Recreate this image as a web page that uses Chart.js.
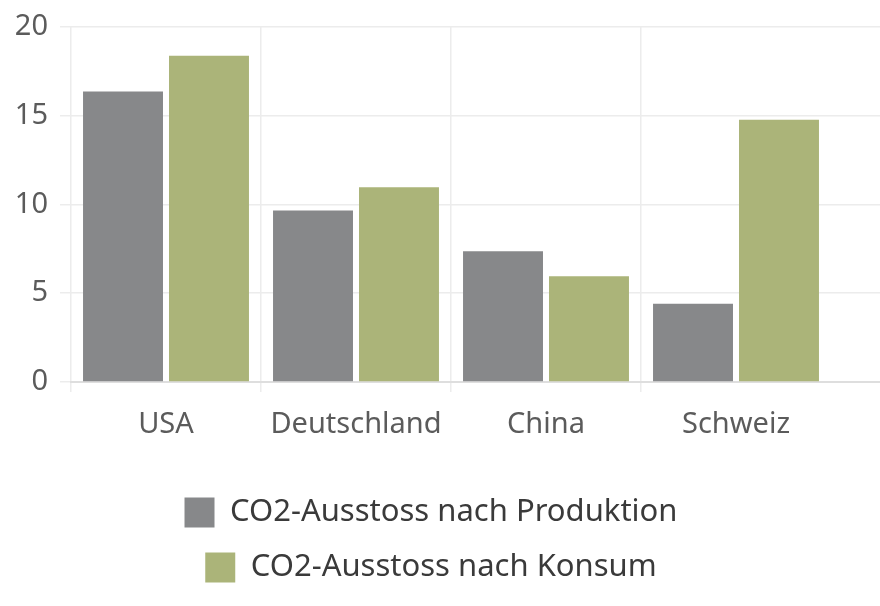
<!DOCTYPE html>
<html>
<head>
<meta charset="utf-8">
<script src="https://cdn.jsdelivr.net/npm/chart.js@4/dist/chart.umd.min.js"></script>
<style>
  html, body { margin: 0; padding: 0; background: #fff; }
  .chart-container { width: 880px; height: 606px; }
</style>
</head>
<body>
<div class="chart-container"><canvas id="co2Chart"></canvas></div>
<script>
// Daten
const countries = ['USA', 'Deutschland', 'China', 'Schweiz'];
const produktion = [16.35, 9.65, 7.35, 4.4];
const konsum = [18.35, 10.95, 5.95, 14.75];
const yTicks = [0, 5, 10, 15, 20];

const gridColor = '#ececec';
const axisColor = '#dedede';
const tickColor = '#5b5b5b';

// Legende etwas nach links rücken
const legendShift = {
    id: 'legendShift',
    afterLayout(chart) {
        if (chart.legend) chart.legend.right -= 18;
    }
};

document.addEventListener('DOMContentLoaded', () => {
    const ctx = document.getElementById('co2Chart').getContext('2d');
    Chart.defaults.font.family = '"Noto Sans", sans-serif';

    new Chart(ctx, {
        type: 'bar',
        data: {
            labels: countries,
            datasets: [{
                label: 'CO2-Ausstoss nach Produktion',
                data: produktion,
                backgroundColor: '#87888a',
                categoryPercentage: 0.905,
                barPercentage: 0.93
            }, {
                label: 'CO2-Ausstoss nach Konsum',
                data: konsum,
                backgroundColor: '#abb479',
                categoryPercentage: 0.905,
                barPercentage: 0.93
            }]
        },
        options: {
            responsive: true,
            maintainAspectRatio: false,
            animation: false,
            layout: { padding: { top: 9, left: 0, right: 0, bottom: 13 } },
            scales: {
                x: {
                    afterFit: (axis) => { axis.height = 91; },
                    grid: {
                        // letzte Linie am rechten Rand nicht zeichnen
                        color: (c) => c.type === 'tick' ? gridColor : 'rgba(0,0,0,0)',
                        tickLength: 10,
                        lineWidth: 1.5
                    },
                    border: { color: axisColor, width: 2 },
                    ticks: { color: tickColor, font: { size: 29 }, padding: 15 }
                },
                y: {
                    min: 0,
                    max: 20,
                    afterBuildTicks: (axis) => { axis.ticks = yTicks.map(v => ({ value: v })); },
                    afterFit: (axis) => { axis.width = 71; },
                    grid: { color: gridColor, tickLength: 11, lineWidth: 1.5 },
                    border: { display: false },
                    ticks: { color: tickColor, font: { size: 29, lineHeight: 1.0 }, padding: 12 }
                },
                // rechte Achse nur für die verlängerten Gitterlinien
                y2: {
                    position: 'right',
                    min: 0,
                    max: 20,
                    afterBuildTicks: (axis) => { axis.ticks = yTicks.map(v => ({ value: v })); },
                    grid: {
                        color: (c) => c.tick && c.tick.value === 0 ? axisColor : gridColor,
                        lineWidth: (c) => c.tick && c.tick.value === 0 ? 2 : 1.5,
                        tickLength: 49,
                        drawOnChartArea: false
                    },
                    border: { display: false },
                    ticks: { display: false }
                }
            },
            plugins: {
                legend: {
                    position: 'bottom',
                    labels: {
                        color: '#3a3a3a',
                        font: { size: 31 },
                        boxWidth: 30,
                        boxHeight: 30,
                        padding: 24
                    }
                },
                tooltip: { enabled: false }
            }
        },
        plugins: [legendShift]
    });
});
</script>
</body>
</html>
